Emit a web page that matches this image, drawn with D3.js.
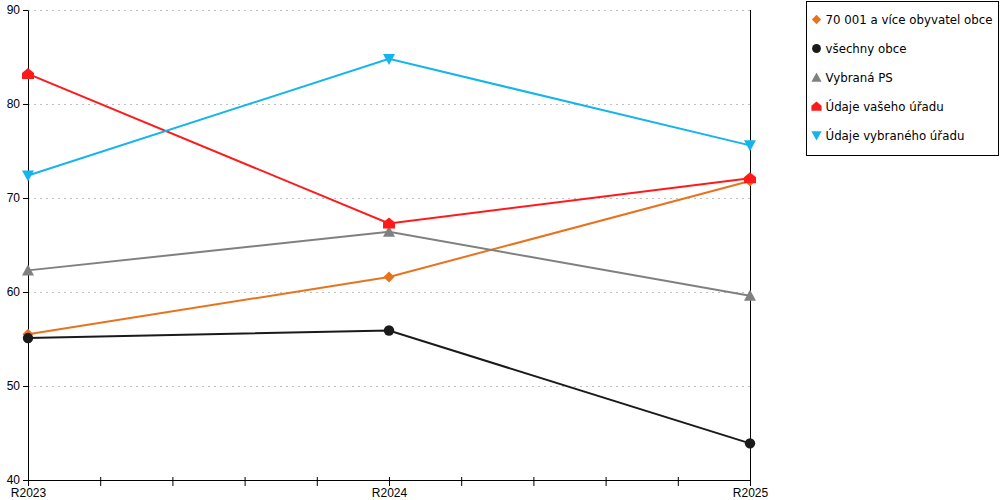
<!DOCTYPE html>
<html>
<head>
<meta charset="utf-8">
<script src="https://cdn.jsdelivr.net/npm/d3@7"></script>
<style>
  body { margin: 0; background: #fff; }
  svg { font-family: "DejaVu Sans", Verdana, sans-serif; }
  .grid line { stroke: #c0c0c0; stroke-dasharray: 2,4; }
</style>
</head>
<body>
<div id="vis"></div>
<script>
const FRAME_WIDTH = 1000;
const FRAME_HEIGHT = 500;
const MARGINS = { left: 28, right: 250, top: 10, bottom: 20 };

const YEARS = ["R2023", "R2024", "R2025"];
const SERIES_NAMES = [
  "70 001 a více obyvatel obce",
  "všechny obce",
  "Vybraná PS",
  "Údaje vašeho úřadu",
  "Údaje vybraného úřadu"
];
const SERIES_COLORS = ["#e8731e", "#1a1a1a", "#808080", "#ff1a1a", "#14b4ec"];
const SERIES_MARKERS = ["diamond", "circle", "triangle", "house", "down"];
const V_OBCE_70K = [55.5, 61.6, 71.8];
const V_VSECHNY = [55.1, 55.9, 43.9];
const V_PS = [62.3, 66.4, 59.6];
const V_VASE = [83.2, 67.3, 72.1];
const V_VYBRANE = [72.4, 84.8, 75.6];
const Y_TICKS = [40, 50, 60, 70, 80, 90];

const SERIES_VALUES = [V_OBCE_70K, V_VSECHNY, V_PS, V_VASE, V_VYBRANE];

const VIS_WIDTH = FRAME_WIDTH - MARGINS.left - MARGINS.right;
const VIS_HEIGHT = FRAME_HEIGHT - MARGINS.top - MARGINS.bottom;

const FRAME = d3.select("#vis")
  .append("svg")
  .attr("width", FRAME_WIDTH)
  .attr("height", FRAME_HEIGHT);

const X_SCALE = d3.scalePoint().domain(YEARS).range([MARGINS.left, MARGINS.left + VIS_WIDTH]);
const X_MINOR = d3.scaleLinear().domain([0, YEARS.length - 1]).range(X_SCALE.range());
const Y_SCALE = d3.scaleLinear().domain([40, 90]).range([MARGINS.top + VIS_HEIGHT, MARGINS.top]);

// dotted gridlines
FRAME.append("g")
  .attr("class", "grid")
  .selectAll("line")
  .data(Y_TICKS.slice(1))
  .enter()
  .append("line")
  .attr("x1", MARGINS.left)
  .attr("x2", MARGINS.left + VIS_WIDTH)
  .attr("y1", (d) => Y_SCALE(d) + 0.5)
  .attr("y2", (d) => Y_SCALE(d) + 0.5);

// right frame line
FRAME.append("line")
  .attr("x1", MARGINS.left + VIS_WIDTH + 0.5)
  .attr("x2", MARGINS.left + VIS_WIDTH + 0.5)
  .attr("y1", MARGINS.top)
  .attr("y2", MARGINS.top + VIS_HEIGHT)
  .attr("stroke", "#000");

// y axis
const yAxis = FRAME.append("g")
  .attr("transform", "translate(" + MARGINS.left + ",0)")
  .call(d3.axisLeft(Y_SCALE).tickValues(Y_TICKS).tickSize(5).tickPadding(3).tickSizeOuter(0));
yAxis.selectAll("text").attr("font-size", "12px").attr("fill", "#000");

// x axis minor ticks
const minor = d3.range(0, (YEARS.length - 1) * 5 + 1).map((i) => i / 5);
const xAxis = FRAME.append("g")
  .attr("transform", "translate(0," + (MARGINS.top + VIS_HEIGHT) + ")")
  .call(d3.axisBottom(X_MINOR).tickValues(minor).tickFormat("").tickSizeOuter(0));
xAxis.selectAll(".tick line").attr("y1", -3).attr("y2", 6);

// x labels
const xLabels = FRAME.append("g")
  .attr("transform", "translate(0," + (MARGINS.top + VIS_HEIGHT) + ")")
  .call(d3.axisBottom(X_SCALE).tickSize(0).tickPadding(8));
xLabels.select(".domain").remove();
xLabels.selectAll("text").attr("font-size", "12px").attr("fill", "#000");

function markerPath(type) {
  if (type === "diamond") return "M0,-5.5L5.5,0L0,5.5L-5.5,0Z";
  if (type === "circle") return d3.symbol(d3.symbolCircle, 85)();
  if (type === "triangle") return "M0,-6L6,5L-6,5Z";
  if (type === "down") return "M-6,-5L6,-5L0,6Z";
  if (type === "house") return "M0,-6L6,-1L6,5L-6,5L-6,-1Z";
}

const line = d3.line()
  .x((d, i) => X_SCALE(YEARS[i]))
  .y((d) => Y_SCALE(d));

SERIES_VALUES.forEach((vals, k) => {
  FRAME.append("path")
    .datum(vals)
    .attr("d", line)
    .attr("fill", "none")
    .attr("stroke", SERIES_COLORS[k])
    .attr("stroke-width", 2);
});

SERIES_VALUES.forEach((vals, k) => {
  FRAME.selectAll(".m" + k)
    .data(vals)
    .enter()
    .append("path")
    .attr("class", "m" + k)
    .attr("d", markerPath(SERIES_MARKERS[k]))
    .attr("transform", (d, i) => "translate(" + X_SCALE(YEARS[i]) + "," + Y_SCALE(d) + ")")
    .attr("fill", SERIES_COLORS[k]);
});

// legend
const legend = FRAME.append("g").attr("transform", "translate(806.5,1.5)");
legend.append("rect")
  .attr("width", 192)
  .attr("height", 154)
  .attr("fill", "#fff")
  .attr("stroke", "#000");

const items = legend.selectAll(".item")
  .data(SERIES_NAMES)
  .enter()
  .append("g")
  .attr("transform", (d, i) => "translate(10," + (18 + i * 29) + ")");

items.append("path")
  .attr("d", (d, i) => markerPath(SERIES_MARKERS[i]))
  .attr("transform", "scale(0.85)")
  .attr("fill", (d, i) => SERIES_COLORS[i]);

items.append("text")
  .attr("x", 9)
  .attr("dy", "0.35em")
  .attr("font-size", "11.8px")
  .text((d) => d);
</script>
</body>
</html>
